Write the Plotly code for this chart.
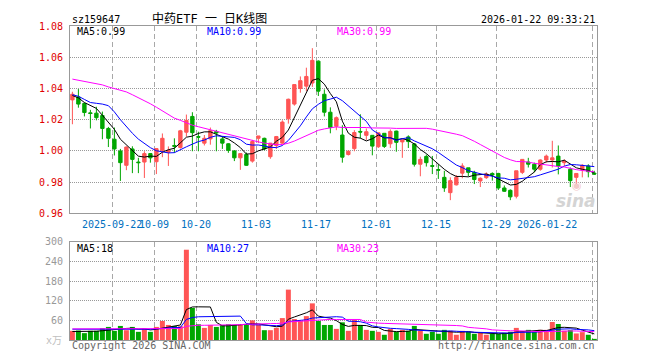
import pandas as pd
import plotly.graph_objects as go

dates = [
    "2025-09-11", "2025-09-12", "2025-09-15", "2025-09-16", "2025-09-17", "2025-09-18", "2025-09-19",
    "2025-09-22", "2025-09-23", "2025-09-24", "2025-09-25", "2025-09-26", "2025-09-29", "2025-09-30",
    "2025-10-09", "2025-10-10", "2025-10-13", "2025-10-14", "2025-10-15", "2025-10-16", "2025-10-17",
    "2025-10-20", "2025-10-21", "2025-10-22", "2025-10-23", "2025-10-24", "2025-10-27", "2025-10-28",
    "2025-10-29", "2025-10-30", "2025-10-31",
    "2025-11-03", "2025-11-04", "2025-11-05", "2025-11-06", "2025-11-07", "2025-11-10", "2025-11-11",
    "2025-11-12", "2025-11-13", "2025-11-14", "2025-11-17", "2025-11-18", "2025-11-19", "2025-11-20",
    "2025-11-21", "2025-11-24", "2025-11-25", "2025-11-26", "2025-11-27", "2025-11-28",
    "2025-12-01", "2025-12-02", "2025-12-03", "2025-12-04", "2025-12-05", "2025-12-08", "2025-12-09",
    "2025-12-10", "2025-12-11", "2025-12-12", "2025-12-15", "2025-12-16", "2025-12-17", "2025-12-18",
    "2025-12-19", "2025-12-22", "2025-12-23", "2025-12-24", "2025-12-25", "2025-12-26", "2025-12-29",
    "2025-12-30", "2025-12-31",
    "2026-01-05", "2026-01-06", "2026-01-07", "2026-01-08", "2026-01-09", "2026-01-12", "2026-01-13",
    "2026-01-14", "2026-01-15", "2026-01-16", "2026-01-19", "2026-01-20", "2026-01-21", "2026-01-22",
]

open_ = [
    1.0327, 1.0346, 1.0304, 1.0244, 1.0242, 1.0227, 1.0144, 1.0075, 1.0000, 0.9908,
    1.0013, 0.9929, 0.9929, 0.9983, 0.9931, 1.0004, 0.9992, 1.0035, 1.0022, 1.0120,
    1.0221, 1.0092, 1.0050, 1.0077, 1.0125, 1.0077, 1.0046, 1.0000, 0.9956, 0.9977,
    0.9935, 1.0081, 1.0081, 0.9963, 1.0035, 1.0050, 1.0206, 1.0300, 1.0400, 1.0415,
    1.0435, 1.0575, 1.0363, 1.0248, 1.0158, 1.0102, 0.9977, 1.0015, 1.0125, 1.0100,
    1.0100, 1.0027, 1.0113, 1.0046, 1.0127, 1.0058, 1.0090, 1.0045, 0.9915, 0.9965,
    0.9906, 0.9881, 0.9831, 0.9733, 0.9783, 0.9858, 0.9892, 0.9863, 0.9808, 0.9829,
    0.9856, 0.9856, 0.9763, 0.9748, 0.9710, 0.9863, 0.9929, 0.9915, 0.9883, 0.9942,
    0.9942, 0.9967, 0.9925, 0.9883, 0.9831, 0.9879, 0.9904, 0.9858,
]
high = [
    1.0379, 1.0396, 1.0310, 1.0263, 1.0283, 1.0252, 1.0154, 1.0150, 1.0013, 1.0029,
    1.0030, 0.9956, 0.9998, 0.9985, 1.0015, 1.0112, 1.0029, 1.0081, 1.0135, 1.0233,
    1.0248, 1.0123, 1.0102, 1.0150, 1.0135, 1.0092, 1.0050, 1.0004, 0.9983, 0.9990,
    1.0071, 1.0096, 1.0085, 1.0050, 1.0096, 1.0196, 1.0335, 1.0425, 1.0477, 1.0533,
    1.0658, 1.0580, 1.0394, 1.0279, 1.0221, 1.0165, 1.0004, 1.0133, 1.0235, 1.0144,
    1.0102, 1.0117, 1.0113, 1.0138, 1.0130, 1.0075, 1.0100, 1.0050, 0.9963, 0.9977,
    0.9968, 0.9915, 0.9873, 0.9831, 0.9846, 0.9921, 0.9892, 0.9873, 0.9831, 0.9863,
    0.9863, 0.9860, 0.9779, 0.9754, 0.9873, 0.9946, 0.9956, 0.9925, 0.9946, 0.9977,
    1.0065, 1.0035, 0.9946, 0.9894, 0.9858, 0.9915, 0.9915, 0.9873,
]
low = [
    1.0171, 1.0277, 1.0221, 1.0144, 1.0196, 1.0075, 1.0025, 0.9971, 0.9808, 0.9877,
    0.9858, 0.9858, 0.9827, 0.9925, 0.9852, 0.9960, 0.9904, 0.9988, 1.0015, 1.0092,
    0.9998, 0.9998, 1.0035, 1.0040, 0.9998, 1.0013, 0.9988, 0.9935, 0.9879, 0.9904,
    0.9925, 1.0050, 1.0004, 0.9950, 1.0013, 1.0046, 1.0175, 1.0290, 1.0373, 1.0383,
    1.0410, 1.0352, 1.0221, 1.0113, 1.0133, 0.9925, 0.9971, 0.9998, 1.0081, 1.0071,
    0.9972, 1.0019, 1.0019, 1.0019, 0.9995, 0.9956, 1.0019, 0.9900, 0.9838, 0.9900,
    0.9852, 0.9821, 0.9738, 0.9685, 0.9779, 0.9825, 0.9838, 0.9788, 0.9769, 0.9821,
    0.9810, 0.9750, 0.9738, 0.9685, 0.9696, 0.9852, 0.9894, 0.9863, 0.9873, 0.9925,
    0.9894, 0.9850, 0.9904, 0.9769, 0.9778, 0.9831, 0.9831, 0.9846,
]
close = [
    1.0363, 1.0300, 1.0246, 1.0240, 1.0213, 1.0144, 1.0081, 1.0013, 0.9925, 1.0025,
    0.9946, 0.9925, 0.9983, 0.9956, 1.0015, 1.0081, 1.0004, 1.0030, 1.0129, 1.0196,
    1.0117, 1.0088, 1.0081, 1.0130, 1.0115, 1.0050, 1.0004, 0.9956, 0.9983, 0.9908,
    1.0060, 1.0096, 1.0013, 1.0050, 1.0092, 1.0185, 1.0331, 1.0425, 1.0450, 1.0477,
    1.0580, 1.0383, 1.0248, 1.0150, 1.0213, 0.9960, 0.9998, 1.0118, 1.0121, 1.0123,
    1.0031, 1.0116, 1.0029, 1.0125, 1.0055, 1.0070, 1.0060, 0.9915, 0.9946, 0.9925,
    0.9902, 0.9877, 0.9763, 0.9810, 0.9831, 0.9904, 0.9863, 0.9817, 0.9825, 0.9852,
    0.9846, 0.9763, 0.9742, 0.9706, 0.9873, 0.9946, 0.9915, 0.9883, 0.9942, 0.9967,
    0.9956, 0.9904, 0.9935, 0.9810, 0.9856, 0.9908, 0.9867, 0.9852,
]
volume = [
    28, 29, 21, 28, 28, 36, 40, 28, 43, 30,
    40, 25, 34, 25, 40, 58, 46, 43, 42, 276,
    98, 48, 37, 46, 40, 46, 48, 46, 46, 48,
    60, 46, 30, 30, 37, 67, 154, 64, 58, 73,
    112, 58, 46, 46, 34, 54, 28, 61, 46, 31,
    28, 25, 16, 34, 25, 31, 28, 43, 28, 19,
    25, 19, 31, 28, 16, 28, 25, 19, 22, 16,
    19, 19, 22, 25, 37, 25, 31, 25, 31, 31,
    55, 49, 28, 30, 20, 24, 16, 3,
]

# Moving-average values for the first days (their windows start before the first visible day)
price_ma5_lead = [1.0355, 1.0340, 1.0310, 1.0290]
price_ma10_lead = [1.0360, 1.0350, 1.0330, 1.0310, 1.0305, 1.0300, 1.0290, 1.0250, 1.0200]
price_ma30_lead = [
    1.0460, 1.0452, 1.0445, 1.0440, 1.0432, 1.0423, 1.0410, 1.0400, 1.0388, 1.0378,
    1.0360, 1.0342, 1.0322, 1.0302, 1.0280, 1.0255, 1.0230, 1.0210, 1.0196, 1.0178,
    1.0165, 1.0155, 1.0145, 1.0138, 1.0128, 1.0118, 1.0108, 1.0098, 1.0085,
]
vol_ma5_lead = [26, 26, 25, 25]
vol_ma10_lead = [33, 33, 32, 32, 32, 31, 31, 31, 31]
vol_ma30_lead = [
    34, 34, 34, 34, 34, 34, 34, 34, 34, 34,
    34, 34, 34, 34, 34, 34, 34, 34, 35, 42,
    44, 45, 45, 45, 45, 46, 46, 47, 47,
]

tick_dates = ["2025-09-22", "2025-10-09", "2025-10-20", "2025-11-03", "2025-11-17",
              "2025-12-01", "2025-12-15", "2025-12-29", "2026-01-22"]
tick_text = ["2025-09-22", "10-09", "10-20", "11-03", "11-17", "12-01", "12-15", "12-29", "2026-01-22"]
price_ticks = [0.96, 0.98, 1.00, 1.02, 1.04, 1.06, 1.08]
vol_ticks = [60, 120, 180, 240, 300]


def moving_average(values, n, lead):
    s = pd.Series(values, dtype=float).rolling(n).mean()
    s.iloc[:len(lead)] = lead
    return s


x = list(range(len(dates)))
RED = "#ff5555"
GREEN = "#00a600"
MONO = "DejaVu Sans Mono, Liberation Mono, monospace"

fig = go.Figure()
fig.add_trace(go.Candlestick(
    x=x, open=open_, high=high, low=low, close=close, hovertext=dates,
    increasing=dict(line=dict(color=RED, width=1), fillcolor=RED),
    decreasing=dict(line=dict(color=GREEN, width=1), fillcolor=GREEN),
    whiskerwidth=0, showlegend=False, xaxis="x", yaxis="y",
))
for vals, n, lead, col in [(close, 5, price_ma5_lead, "#000000"),
                           (close, 10, price_ma10_lead, "#0000ff"),
                           (close, 30, price_ma30_lead, "#ff00ff")]:
    fig.add_trace(go.Scatter(x=x, y=moving_average(vals, n, lead), mode="lines",
                             line=dict(color=col, width=1), showlegend=False,
                             xaxis="x", yaxis="y"))

bar_colors = [RED if c >= o else GREEN for o, c in zip(open_, close)]
fig.add_trace(go.Bar(x=x, y=volume, marker=dict(color=bar_colors, line=dict(width=0)),
                     showlegend=False, xaxis="x2", yaxis="y2"))
for vals, n, lead, col in [(volume, 5, vol_ma5_lead, "#000000"),
                           (volume, 10, vol_ma10_lead, "#0000ff"),
                           (volume, 30, vol_ma30_lead, "#ff00ff")]:
    fig.add_trace(go.Scatter(x=x, y=moving_average(vals, n, lead), mode="lines",
                             line=dict(color=col, width=1, shape="linear"), showlegend=False,
                             xaxis="x2", yaxis="y2"))

tick_idx = [dates.index(d) for d in tick_dates]
grid_x = [i - 0.33 for i in tick_idx]
xrange = [-0.4, len(dates) - 0.55]

common_x = dict(range=xrange, tickvals=grid_x, showticklabels=False, ticks="",
                showgrid=True, gridcolor="#a8a8a8", gridwidth=1, griddash="5px,3px",
                showline=True, mirror=True, linecolor="#999999", linewidth=1,
                zeroline=False, fixedrange=True)

# the page body adds an 8px margin, so the figure is sized/offset to keep the plot at the reference position
fig.update_layout(
    width=652, height=352,
    margin=dict(l=62, r=63, t=12, b=20),
    paper_bgcolor="white", plot_bgcolor="white",
    boxgap=0.2, bargap=0.17,
    font=dict(family=MONO, size=10, color="#000000"),
    xaxis=dict(common_x, anchor="y", rangeslider=dict(visible=False)),
    xaxis2=dict(common_x, anchor="y2", matches="x"),
    yaxis=dict(domain=[0.4031, 1.0], range=[0.96, 1.08], tickvals=price_ticks,
               ticktext=[f"{v:.2f}" for v in price_ticks],
               tickfont=dict(family=MONO, size=10, color="#e00000"),
               ticks="", ticklabelstandoff=4,
               showgrid=True, gridcolor="#999999", gridwidth=1, griddash="1px,1px",
               showline=True, mirror=True, linecolor="#999999", linewidth=1,
               zeroline=False, fixedrange=True),
    yaxis2=dict(domain=[0.0, 0.3125], range=[0, 300], tickvals=vol_ticks,
                ticktext=[str(v) for v in vol_ticks],
                tickfont=dict(family=MONO, size=10, color="#999999"),
                ticks="", ticklabelstandoff=4,
                showgrid=True, gridcolor="#999999", gridwidth=1, griddash="1px,1px",
                showline=True, mirror=True, linecolor="#999999", linewidth=1,
                zeroline=False, fixedrange=True),
)


def py(pix):
    return (340 - pix) / 320.0


def px(pix):
    return (pix - 70) / 527.0


ann = []
for gx, txt in zip(grid_x, tick_text):
    last = txt == tick_text[-1]
    ann.append(dict(x=gx, xref="x", y=py(222), yref="paper", text=txt, showarrow=False,
                    xanchor="right" if last else "center", xshift=-13 if last else 0,
                    yanchor="middle", font=dict(family=MONO, size=10, color="#0070c0")))
ann.append(dict(x=px(70), y=py(13), xref="paper", yref="paper", text="sz159647", showarrow=False,
                xanchor="left", yanchor="middle", font=dict(family=MONO, size=10, color="#000")))
ann.append(dict(x=px(209), y=py(12.5), xref="paper", yref="paper", text="中药ETF 一 日K线图",
                showarrow=False, xanchor="center", yanchor="middle",
                font=dict(family="DejaVu Sans Mono, Noto Sans CJK SC", size=12, color="#000")))
ann.append(dict(x=px(597), y=py(13), xref="paper", yref="paper", text="2026-01-22 09:33:21",
                showarrow=False, xanchor="right", yanchor="middle",
                font=dict(family=MONO, size=10, color="#000")))
for (xp, txt, col) in [(75, "MA5:0.99", "#000000"), (205, "MA10:0.99", "#0000ff"), (335, "MA30:0.99", "#ff00ff")]:
    ann.append(dict(x=px(xp), y=py(26), xref="paper", yref="paper", text=txt, showarrow=False,
                    xanchor="left", yanchor="middle", font=dict(family=MONO, size=10, color=col)))
for (xp, txt, col) in [(75, "MA5:18", "#000000"), (205, "MA10:27", "#0000ff"), (335, "MA30:23", "#ff00ff")]:
    ann.append(dict(x=px(xp), y=py(247), xref="paper", yref="paper", text=txt, showarrow=False,
                    xanchor="left", yanchor="middle", font=dict(family=MONO, size=10, color=col)))
ann.append(dict(x=px(64), y=py(340), xref="paper", yref="paper", text="x万", showarrow=False,
                xanchor="right", yanchor="middle",
                font=dict(family="DejaVu Sans Mono, Noto Sans CJK SC", size=10, color="#c0c0c0")))
ann.append(dict(x=px(70), y=py(346), xref="paper", yref="paper", text="Copyright 2026 SINA.COM",
                showarrow=False, xanchor="left", yanchor="middle",
                font=dict(family=MONO, size=10, color="#666666")))
ann.append(dict(x=px(597), y=py(346), xref="paper", yref="paper", text="http://finance.sina.com.cn",
                showarrow=False, xanchor="right", yanchor="middle",
                font=dict(family=MONO, size=10, color="#666666")))
ann.append(dict(x=px(598), y=py(198), xref="paper", yref="paper", text="<b><i>sina</i></b>",
                showarrow=False, xanchor="right", yanchor="middle",
                font=dict(family="DejaVu Sans", size=17, color="#d4d4d4")))
ann.append(dict(x=px(577), y=py(183), xref="paper", yref="paper", text="◉",
                showarrow=False, xanchor="center", yanchor="middle",
                font=dict(family="DejaVu Sans", size=11, color="#f2c8c8")))
fig.update_layout(annotations=ann)

fig.write_html("out.html", config={"displayModeBar": False})
